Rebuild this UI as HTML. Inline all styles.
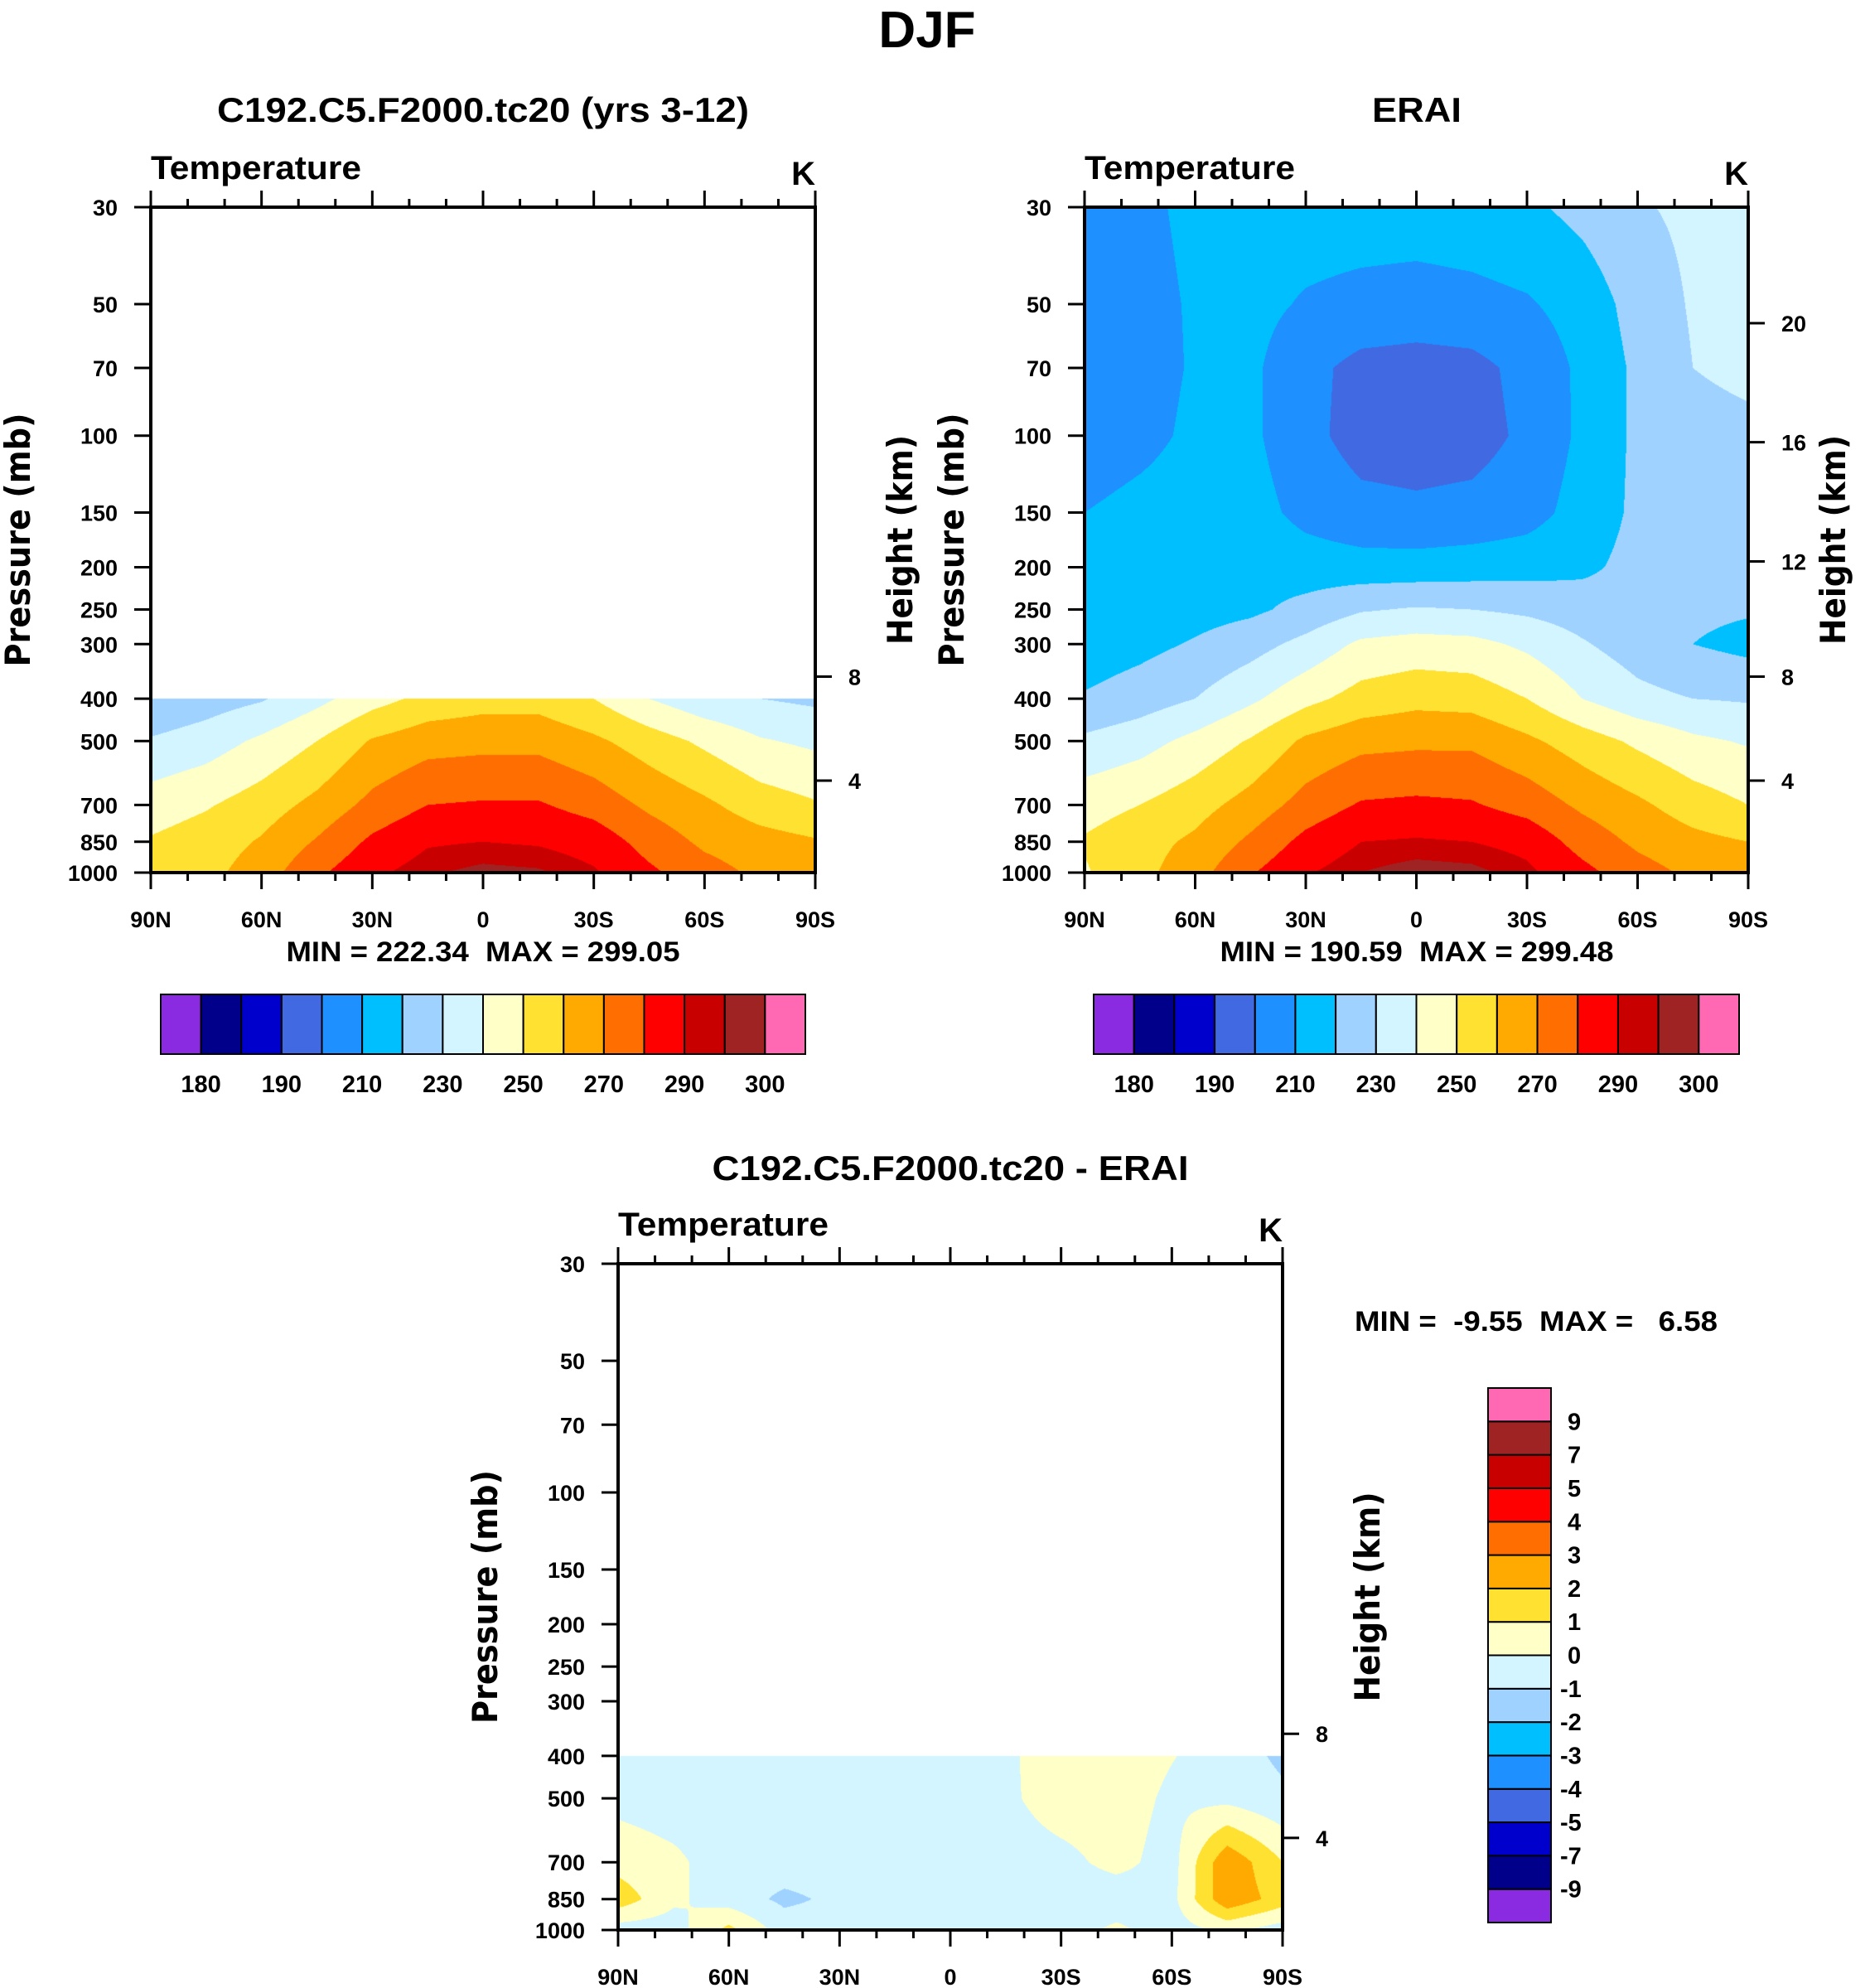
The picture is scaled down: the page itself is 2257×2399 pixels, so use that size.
<!DOCTYPE html>
<html><head><meta charset="utf-8"><style>
html,body{margin:0;padding:0;background:#fff;}
#wrap{position:relative;width:2257px;height:2399px;overflow:hidden;background:#fff;}
canvas{position:absolute;}
svg{position:absolute;left:0;top:0;}
text{font-family:"Liberation Sans",sans-serif;font-weight:bold;fill:#000;}
</style></head><body>
<div id="wrap">
<canvas id="cv1"></canvas>
<canvas id="cv2"></canvas>
<canvas id="cv3"></canvas>
<svg id="svg" width="2257" height="2399" xmlns="http://www.w3.org/2000/svg">
<text x="1119" y="57" font-size="62" text-anchor="middle">DJF</text>
<text x="583" y="147" font-size="42" text-anchor="middle" textLength="642" lengthAdjust="spacingAndGlyphs">C192.C5.F2000.tc20 (yrs 3-12)</text>
<text x="1710" y="147" font-size="42" text-anchor="middle" textLength="108" lengthAdjust="spacingAndGlyphs">ERAI</text>
<text x="1147" y="1424" font-size="42" text-anchor="middle" textLength="575" lengthAdjust="spacingAndGlyphs">C192.C5.F2000.tc20 - ERAI</text>
<text x="583" y="1160" font-size="34" text-anchor="middle" textLength="475" lengthAdjust="spacingAndGlyphs" xml:space="preserve">MIN = 222.34  MAX = 299.05</text>
<text x="1710" y="1160" font-size="34" text-anchor="middle" textLength="475" lengthAdjust="spacingAndGlyphs" xml:space="preserve">MIN = 190.59  MAX = 299.48</text>
<text x="1635" y="1606" font-size="34" textLength="438" lengthAdjust="spacingAndGlyphs" xml:space="preserve">MIN =  -9.55  MAX =   6.58</text>
</svg>
</div>
<script>
// ---- data ----
const lats = [90,75,60,45,30,15,0,-15,-30,-45,-60,-75,-90];
const plevAll = [30,50,70,100,150,200,250,300,400,500,700,850,1000];
const plevLow = [400,500,700,850,1000];
const eraiT = [
 [205,208,212,214,215,215,215,216,218,223,229,232,233],
 [205,207,211,213,209,207,206,207,209,214,224,231,233],
 [204,206,211,212,203,197,196,197,203,212,222,230,232],
 [204,207,212,212,203,196,195,196,202,212,222,227,228],
 [210,213,215,214,207,203,202,203,206,214,222,226,226],
 [214,215,216,217,215,214,214,215,216,218,223,226,226],
 [214,215,216,218,223,229,231,230,228,225,223,222,221],
 [214,217,221,226,233,242,244,243,238,231,225,220,217],
 [221,225,230,238,247,254,257,256,250,240,233,230,229],
 [232,236,243,251,262,267,268,268,262,255,248,242,239],
 [246,250,256,264,274,281,282,281,276,268,262,255,250],
 [251,256,262,272,283,290,291,290,287,276,268,263,260],
 [249,257,266,279,289,295,298,297,292,283,274,268,265]
];
const modelT = [
 [221,225,229,237,246,253,256,256,250,240,233,230,228],
 [231,235,242,250,261,266,267,267,262,255,248,241,238],
 [245,249,255,263,273,280,281,281,276,268,262,255,251],
 [251,255,261,271,282,289,290,289,286,276,268,264,261],
 [250,257,265,278,288,294,297,296,291,282,274,268,264]
];
const diffT = [
 [-0.5,-0.5,-0.5,-0.5,-0.5,-0.5,-0.5,-0.2,0.6,0.6,0.05,-0.5,-1.2],
 [-0.3,-0.5,-0.5,-0.5,-0.5,-0.5,-0.5,-0.2,0.5,0.5,-0.2,-0.3,-0.8],
 [0.6,0.2,-0.5,-0.5,-0.5,-0.5,-0.5,-0.5,-0.3,0.3,-0.4,2.8,1.0],
 [1.6,0.2,-0.5,-1.2,-0.8,-0.5,-0.5,-0.5,-0.5,-0.6,-0.3,2.8,1.5],
 [-0.5,-0.5,1.3,-0.5,-0.5,-0.5,-0.5,-0.6,-0.5,0.2,-0.5,0.2,-0.5]
];
const tempBounds = [180,185,190,200,210,220,230,240,250,260,270,280,290,295,300];
const diffBounds = [-9,-7,-5,-4,-3,-2,-1,0,1,2,3,4,5,7,9];
const tempLabels = ["180","190","210","230","250","270","290","300"];
const diffLabels = ["9","7","5","4","3","2","1","0","-1","-2","-3","-4","-5","-7","-9"];
const pTicks = [30,50,70,100,150,200,250,300,400,500,700,850,1000];
const latTicks = [90,60,30,0,-30,-60,-90];
const latTickLabels = ["90N","60N","30N","0","30S","60S","90S"];
const hKmAll = [20,16,12,8,4];
const hKmLow = [8,4];
const hKmPres = {4:616,8:356,12:194,16:103.5,20:55.3};
const palette = ['#8a2be2','#00008b','#0000cd','#4169e1','#1e90ff','#00bfff','#a0d2ff','#d2f5ff','#ffffc8','#ffe132','#ffaa00','#ff6e00','#ff0000','#c80000','#a02323','#ff69b4'];

// ---- geometry ----
const panels = [
 {cv:'cv1',name:'model',x0:182,x1:984,y0:250,y1:1053,grid:modelT,lev:plevLow,bounds:tempBounds,hk:hKmLow},
 {cv:'cv2',name:'erai',x0:1309,x1:2110,y0:250,y1:1053,grid:eraiT,lev:plevAll,bounds:tempBounds,hk:hKmAll},
 {cv:'cv3',name:'difference',x0:746,x1:1548,y0:1525,y1:2329,grid:diffT,lev:plevLow,bounds:diffBounds,hk:hKmLow}
];
const LR = Math.log(1000/30);
function yOf(P,p){return P.y0+(Math.log(p/30)/LR)*(P.y1-P.y0);}
function xOf(P,lat){return P.x0+(90-lat)/180*(P.x1-P.x0);}
function hex(c){return [parseInt(c.substr(1,2),16),parseInt(c.substr(3,2),16),parseInt(c.substr(5,2),16)];}
const rgb = palette.map(hex);

function interp(grid,lev,lat,p){
 if(p<lev[0]-1e-9) return null;
 const ci=(90-lat)/15;
 let i0=Math.min(Math.floor(ci),11); const tx=ci-i0;
 let k=0; while(k<lev.length-2 && p>lev[k+1]) k++;
 let ty=(Math.log(p)-Math.log(lev[k]))/(Math.log(lev[k+1])-Math.log(lev[k]));
 ty=Math.max(0,Math.min(1,ty));
 const ni=Math.round(ci), nk=ty<0.5?k:k+1;
 if(grid[nk][ni]===null) return null;
 let c=[grid[k][i0],grid[k][i0+1],grid[k+1][i0],grid[k+1][i0+1]];
 const ok=c.filter(v=>v!==null); const av=ok.reduce((a,b)=>a+b,0)/ok.length;
 c=c.map(v=>v===null?av:v);
 return (c[0]*(1-tx)+c[1]*tx)*(1-ty)+(c[2]*(1-tx)+c[3]*tx)*ty;
}
function drawField(P){
 const cv=document.getElementById(P.cv);
 const W=P.x1-P.x0,H=P.y1-P.y0;
 cv.width=W;cv.height=H;cv.style.left=P.x0+'px';cv.style.top=P.y0+'px';
 const ctx=cv.getContext('2d');const img=ctx.createImageData(W,H);const d=img.data;
 for(let py=0;py<H;py++){
  const p=30*Math.exp((py+0.5)/H*LR);
  for(let px=0;px<W;px++){
   const lat=90-180*(px+0.5)/W;
   const v=interp(P.grid,P.lev,lat,p);
   const o=(py*W+px)*4;
   if(v===null){d[o]=255;d[o+1]=255;d[o+2]=255;d[o+3]=255;continue;}
   let idx=0; for(const b of P.bounds){if(v>=b)idx++;}
   const c=rgb[idx]; d[o]=c[0];d[o+1]=c[1];d[o+2]=c[2];d[o+3]=255;
  }
 }
 ctx.putImageData(img,0,0);
}
const svg=document.getElementById('svg');
const NS='http://www.w3.org/2000/svg';
function mk(tag,attrs,parent){const e=document.createElementNS(NS,tag);for(const k in attrs)e.setAttribute(k,attrs[k]);(parent||svg).appendChild(e);return e;}

panels.forEach(P=>{
 drawField(P);
 const g=mk('g',{});
 
 
 const frame=mk('rect',{x:P.x0,y:P.y0,width:P.x1-P.x0,height:P.y1-P.y0,fill:'none',stroke:'#000','stroke-width':4},g);
 
 
 pTicks.forEach(p=>{
  const y=yOf(P,p);
  mk('line',{x1:P.x0-20,x2:P.x0,y1:y,y2:y,stroke:'#000','stroke-width':3},g);
  const t=mk('text',{x:P.x0-40,y:y+10,'font-size':27,'text-anchor':'end'},g);
  t.textContent=String(p);
  
  
 });
 for(let lat=90;lat>=-90;lat-=10){
  const x=xOf(P,lat);const major=(lat%30===0);const L=major?20:10;
  mk('line',{x1:x,x2:x,y1:P.y0-L,y2:P.y0,stroke:'#000','stroke-width':3},g);
  mk('line',{x1:x,x2:x,y1:P.y1,y2:P.y1+L,stroke:'#000','stroke-width':3},g);
 }
 latTicks.forEach((lat,i)=>{
  const t=mk('text',{x:xOf(P,lat),y:P.y1+66,'font-size':27,'text-anchor':'middle'},g);
  t.textContent=latTickLabels[i];
  
  
 });
 P.hk.forEach(h=>{
  const y=yOf(P,hKmPres[h]);
  mk('line',{x1:P.x1,x2:P.x1+20,y1:y,y2:y,stroke:'#000','stroke-width':3},g);
  const t=mk('text',{x:P.x1+40,y:y+10,'font-size':27},g);
  t.textContent=String(h);
  
  
 });
 const tl=mk('text',{x:P.x0,y:P.y0-34,'font-size':40,textLength:254,lengthAdjust:'spacingAndGlyphs'},g);
 tl.textContent='Temperature';
 
 
 const kl=mk('text',{x:P.x1,y:P.y0-27,'font-size':40,'text-anchor':'end'},g);
 kl.textContent='K';
 
 
 const cy=(P.y0+P.y1)/2;
 const pxl = P.name==='difference'?600:(P.name==='model'?36:1163);
 const pl=mk('text',{x:pxl,y:cy,'font-size':42,'text-anchor':'middle',transform:'rotate(-90 '+pxl+' '+cy+')',textLength:306,lengthAdjust:'spacingAndGlyphs',style:'font-family:"DejaVu Sans",sans-serif'},g);
 pl.textContent='Pressure (mb)';
 
 
 const hx = P.x1+117;
 const hl=mk('text',{x:hx,y:cy,'font-size':42,'text-anchor':'middle',transform:'rotate(-90 '+hx+' '+cy+')',textLength:253,lengthAdjust:'spacingAndGlyphs',style:'font-family:"DejaVu Sans",sans-serif'},g);
 hl.textContent='Height (km)';
 
 
});

[[194,972,'model'],[1320,2099,'erai']].forEach(([a,b,nm])=>{
 const g=mk('g',{});
 
 
 const w=(b-a)/palette.length;
 palette.forEach((c,i)=>{
  const r=mk('rect',{x:a+i*w,y:1200,width:w,height:72,fill:c,stroke:'#000','stroke-width':2},g);
  
  
 });
 tempLabels.forEach((lb,j)=>{
  const t=mk('text',{x:a+(2*j+1)*w,y:1318,'font-size':29,'text-anchor':'middle'},g);
  t.textContent=lb;
  
  
 });
});
(function(){
 const g=mk('g',{});
 
 
 const top=1675,bot=2320,h=(bot-top)/palette.length;
 palette.forEach((c,i)=>{
  const r=mk('rect',{x:1796,y:top+(palette.length-1-i)*h,width:76,height:h,fill:c,stroke:'#000','stroke-width':2},g);
  
  
 });
 diffLabels.forEach((lb,j)=>{
  const t=mk('text',{x:lb[0]==='-'?1883:1892,y:top+(j+1)*h+10,'font-size':29},g);
  t.textContent=lb;
  
  
 });
})();
</script>
</body></html>
